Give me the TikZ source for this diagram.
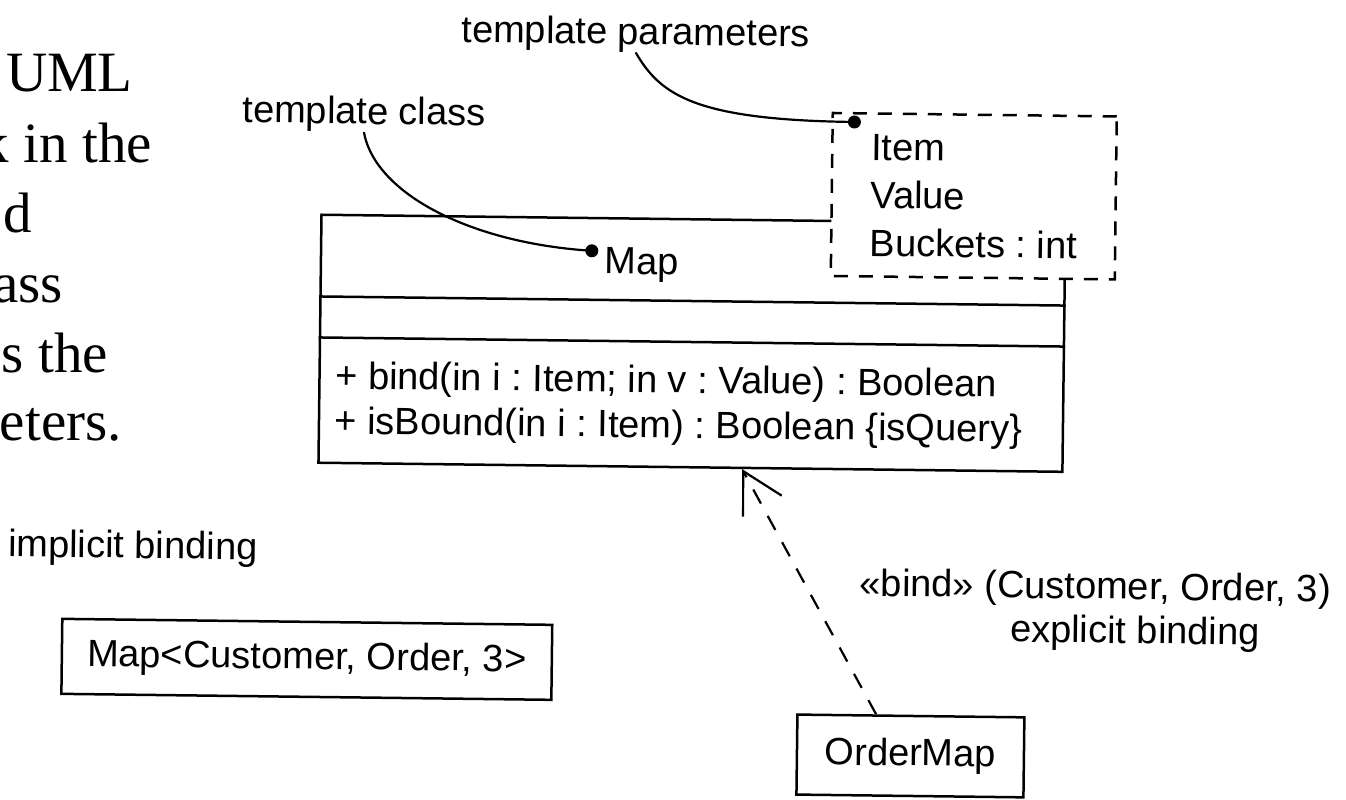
\documentclass[tikz,border=0pt]{standalone}
\usepackage{fontspec}
\setmainfont{Liberation Serif}
\setsansfont{Liberation Sans}
\usetikzlibrary{arrows.meta,calc}
\frenchspacing
\begin{document}
\begin{tikzpicture}[x=1pt,y=-1pt,
  lab/.style={font=\sffamily\fontsize{38}{44}\selectfont, inner sep=0pt, anchor=base west},
  boxtext/.style={font=\sffamily\fontsize{38}{44}\selectfont},
  slide/.style={font=\rmfamily\fontsize{57}{68}\selectfont, inner sep=0pt, anchor=base east},
  box/.style={draw, line width=2.5pt, inner sep=0pt},
  rule/.style={line width=2.5pt},
  leader/.style={line width=2.2pt},
  pin/.style={circle, fill, inner sep=0pt, minimum size=13pt},
  dashedbox/.style={dash pattern=on 14pt off 11pt},
  binddep/.style={line width=2.2pt, dash pattern=on 16pt off 14pt,
                  -{Straight Barb[length=40pt,width=44pt]}},
]
\useasboundingbox (0,0) rectangle (1346,800);
\clip (0,0) rectangle (1346,800);

% running text of the slide, cut off at the left edge
\node[slide] (s1) at (133,92)  {UML};
\node[slide] (s2) at (152,162) {k in the};
\node[slide] (s3) at (32,232)  {d};
\node[slide] (s4) at (63,302)  {ass};
\node[slide] (s5) at (108,372) {s the};
\node[slide] (s6) at (122,440) {eters.};

\begin{scope}[rotate around={-0.7:(690,400)}, transform shape]
  % callout labels
  \node[lab] (tparams) at (457,45)  {template parameters};
  \node[lab] (tclass)  at (239,128) {template class};

  % template class Map with its three compartments
  \node[box, anchor=north west, minimum width=744pt, minimum height=248pt] (mapclass) at (318,218) {};
  \draw[rule] ($(mapclass.north west)+(0,83)$)  -- ($(mapclass.north east)+(0,83)$);
  \draw[rule] ($(mapclass.north west)+(0,124)$) -- ($(mapclass.north east)+(0,124)$);
  \node[lab] (mapname) at (603,275) {Map};
  \node[lab] (op1) at (335,393) {+ bind(in i : Item; in v : Value) : Boolean};
  \node[lab] (op2) at (335,438) {+ isBound(in i : Item) : Boolean \{isQuery\}};

  % template parameter box on the upper right corner
  \node[box, dashedbox, fill=white, anchor=north west, minimum width=284pt, minimum height=163pt] (params) at (828,110) {};
  \node[lab] (pitem)    at (868,158) {Item};
  \node[lab] (pvalue)   at (868,206) {Value};
  \node[lab] (pbuckets) at (868,254) {Buckets : int};

  % pins and leader lines
  \node[pin] (mapdot)   at (590,252) {};
  \node[pin] (paramdot) at (851,120) {};
  \draw[leader] (tclass.south) .. controls +(12,62) and +(-120,-6) .. (mapdot.center);
  \draw[leader] (tparams.south) .. controls +(25,42) and +(-160,0) .. (paramdot.center);

  % implicit binding
  \node[lab] (implicit) at (10,565) {implicit binding};
  \node[box, boxtext, minimum width=490pt, minimum height=75pt] (bound) at (310,664) {Map<Customer, Order, 3>};

  % explicit binding
  \node[box, boxtext, anchor=north west, minimum width=227pt, minimum height=80pt] (ordermap) at (800,712) {OrderMap};
  \node[lab] (bindlabel) at (862,594)  {«bind» (Customer, Order, 3)};
  \node[lab] (explicit)  at (1013,638) {explicit binding};
  \path (mapclass.south west) ++(425,0) coordinate (bindtip);
  \path (ordermap.north west) ++(80,0) coordinate (bindtail);
  \draw[binddep] (bindtail) -- (bindtip);
\end{scope}
\end{tikzpicture}
\end{document}
